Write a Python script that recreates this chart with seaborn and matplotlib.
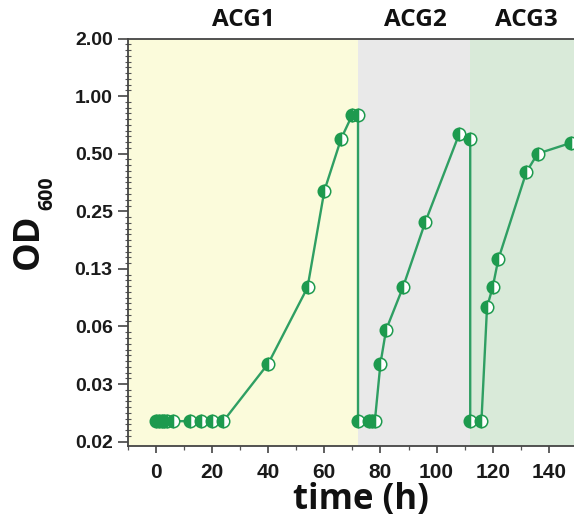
import numpy as np
import pandas as pd
import matplotlib
matplotlib.use("Agg")
import matplotlib.pyplot as plt
import seaborn as sns
from matplotlib.ticker import FixedLocator, NullFormatter

# ---- data ----
time_h = [0, 1, 2, 3, 4, 6, 12, 16, 20, 24, 40, 54, 60, 66, 70, 72,
          72, 76, 77, 78, 80, 82, 88, 96, 108, 112,
          112, 116, 118, 120, 122, 132, 136, 148]
od600 = [0.02, 0.02, 0.02, 0.02, 0.02, 0.02, 0.02, 0.02, 0.02, 0.02, 0.04, 0.10, 0.32, 0.60, 0.80, 0.80,
         0.02, 0.02, 0.02, 0.02, 0.04, 0.06, 0.10, 0.22, 0.63, 0.60,
         0.02, 0.02, 0.079, 0.10, 0.14, 0.40, 0.50, 0.57]
phase_names = ["ACG1", "ACG2", "ACG3"]
phase_start = [-10, 72, 112]
phase_end = [72, 112, 149]
phase_colors = ["#fbfbdb", "#e9e9e9", "#d9ead9"]
ytick_vals = [2, 1, 0.5, 0.25, 0.125, 0.0625, 0.03125, 0.015625]
ytick_labels = ["2.00", "1.00", "0.50", "0.25", "0.13", "0.06", "0.03", "0.02"]
xtick_vals = [0, 20, 40, 60, 80, 100, 120, 140]

df = pd.DataFrame({"time": time_h, "od": od600})

sns.set_style("white")
plt.rcParams["font.family"] = ["Open Sans", "DejaVu Sans"]

fig = plt.figure(figsize=(5.74, 5.25), dpi=100)
ax = fig.add_axes([128 / 574, 1 - 446 / 525, 1 - 128 / 574, (446 - 38.5) / 525])

for s, e, c in zip(phase_start, phase_end, phase_colors):
    ax.axvspan(s, e, color=c, lw=0, zorder=0)

line_c = "#2f9f63"
mark_c = "#1d9a4e"
sns.lineplot(data=df, x="time", y="od", sort=False, estimator=None, ax=ax,
             color=line_c, lw=1.7, zorder=3)
# half-filled markers, drawn one after another so later ones overlap earlier ones
for t, v in zip(df["time"], df["od"]):
    ax.plot([t], [v], linestyle="none", marker="o", markersize=9,
            fillstyle="left", markerfacecolor=mark_c, markerfacecoloralt="white",
            markeredgecolor=mark_c, markeredgewidth=1.1, zorder=4)

ax.set_yscale("log", base=2)
ax.set_ylim(2 ** -6.075, 2)
ax.set_xlim(-10, 149)
ax.set_yticks(ytick_vals)
ax.set_yticklabels(ytick_labels)
minor_y = [2 ** (k + i / 10) for k in range(-7, 1) for i in range(1, 10)]
ax.yaxis.set_minor_locator(FixedLocator(minor_y))
ax.yaxis.set_minor_formatter(NullFormatter())
ax.set_xticks(xtick_vals)
ax.xaxis.set_minor_locator(FixedLocator(list(range(-10, 150, 10))))
ax.xaxis.set_minor_formatter(NullFormatter())

for lab in ax.get_yticklabels():
    lab.set_fontfamily("Liberation Sans")
    lab.set_fontweight("bold")
    lab.set_fontsize(14)
    lab.set_color("#1a1a1a")
for lab in ax.get_xticklabels():
    lab.set_fontfamily("Liberation Sans")
    lab.set_fontweight("bold")
    lab.set_fontsize(15)
    lab.set_color("#1a1a1a")

ax.tick_params(axis="y", which="major", direction="out", length=7, width=1.2,
               color="#444444", pad=4, left=True)
ax.tick_params(axis="y", which="minor", direction="inout", length=5, width=0.8,
               color="#555555", left=True)
ax.tick_params(axis="x", which="major", direction="out", length=5, width=1.2,
               color="#444444", pad=7, bottom=True)
ax.tick_params(axis="x", which="minor", direction="out", length=3, width=0.9,
               color="#555555", bottom=True)

for side in ["left", "bottom", "top"]:
    ax.spines[side].set_visible(True)
    ax.spines[side].set_color("#444444")
    ax.spines[side].set_linewidth(1.3)
ax.spines["right"].set_visible(False)
ax.set_xlabel("")
ax.set_ylabel("")

trans = ax.get_xaxis_transform()
for name, xpos in zip(phase_names, [31, 92.5, 132]):
    ax.text(xpos, 1.045, name, transform=trans, ha="center", va="center",
            fontsize=17.5, fontweight="bold", color="#111111")

fig.text(28.5 / 574, 1 - 241.7 / 525, "OD", rotation=90, ha="center", va="center",
         fontsize=26, fontweight="bold", color="#111111")
fig.text(47 / 574, 1 - 193 / 525, "600", rotation=90, ha="center", va="center",
         fontsize=14, fontweight="bold", color="#111111")
fig.text(361 / 574, 1 - 500 / 525, "time (h)", ha="center", va="center",
         fontsize=25, fontweight="bold", color="#111111")

fig.savefig("out.png", dpi=100)
